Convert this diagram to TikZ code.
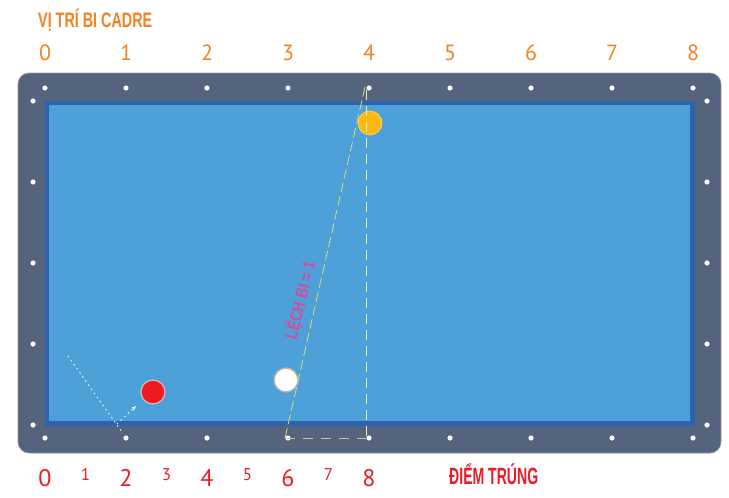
\documentclass[tikz,border=0pt]{standalone}
\usepackage{fontspec}
\setmainfont{PT Sans}
\newfontfamily\condfont{Liberation Sans}
\usetikzlibrary{arrows.meta}
\definecolor{framecol}{HTML}{53647C}
\definecolor{frameedge}{HTML}{8E98A6}
\definecolor{bandcol}{HTML}{2E62AE}
\definecolor{clothcol}{HTML}{4EA0D8}
\definecolor{orangecol}{HTML}{F58220}
\definecolor{redcol}{HTML}{ED1C24}
\definecolor{magentacol}{HTML}{D44B9B}
\definecolor{yellowball}{HTML}{FDB913}
\definecolor{slantcol}{HTML}{E3DC70}
\definecolor{vertcol}{HTML}{F2EDB0}
\definecolor{horcol}{HTML}{CBC39E}
\begin{document}
\begin{tikzpicture}[x=1pt,y=-1pt,
  diamond dot/.style={fill=white},
  toplab/.style={anchor=base,inner sep=0pt,text=orangecol,font=\fontsize{22}{24}\selectfont},
  botbig/.style={anchor=base,inner sep=0pt,text=redcol,font=\fontsize{24}{26}\selectfont},
  botsmall/.style={anchor=base,inner sep=0pt,text=redcol,font=\fontsize{17}{19}\selectfont},
  ball/.style={circle,minimum size=24pt,inner sep=0pt},
  slantline/.style={slantcol,line width=0.8pt,dash pattern=on 10pt off 4pt},
  vertline/.style={vertcol,line width=0.8pt,dash pattern=on 10pt off 6pt},
  horline/.style={horcol,line width=0.8pt,dash pattern=on 10pt off 8pt},
  dotline/.style={white,line width=0.9pt,dash pattern=on 1.5pt off 3.5pt}
]
\useasboundingbox (0,0) rectangle (729,498);
\fill[white] (0,0) rectangle (729,498);
% table
\draw[frameedge,fill=framecol,line width=0.6pt,rounded corners=11pt] (18,73) rectangle (721,453);
\fill[bandcol] (45,101) rectangle (695,426);
\fill[clothcol] (49,105) rectangle (690,421);
% diamonds
\foreach \i in {0,...,8} {
  \coordinate (t\i) at (45+81*\i,88);
  \coordinate (b\i) at (45+81*\i,438);
  \fill[diamond dot] (t\i) circle (2.6pt);
  \fill[diamond dot] (b\i) circle (2.6pt);
}
\foreach \j in {0,...,4} {
  \coordinate (l\j) at (33,101+81*\j);
  \coordinate (r\j) at (707,101+81*\j);
  \fill[diamond dot] (l\j) circle (2.6pt);
  \fill[diamond dot] (r\j) circle (2.6pt);
}
% labels
\node[anchor=base west,inner sep=0pt,text=orangecol] (title) at (38,27)
  {\fontsize{21}{22}\selectfont\resizebox{114pt}{\height}{\condfont\bfseries VỊ TRÍ BI CADRE}};
\foreach \i in {0,...,8} {
  \node[toplab] (tl\i) at (45+81*\i,60) {\i};
}
\foreach \j/\v in {0/0,1/2,2/4,3/6,4/8} {
  \node[botbig] (bb\j) at (45+81*\j,486) {\v};
}
\foreach \j/\v in {0/1,1/3,2/5,3/7} {
  \node[botsmall] (bs\j) at (85.5+81*\j,480) {\v};
}
\node[anchor=base west,inner sep=0pt,text=redcol] (hit) at (449,484)
  {\fontsize{23.5}{24}\selectfont\resizebox{89pt}{\height}{\condfont\bfseries ĐIỂM TRÚNG}};
% balls
\node[ball,fill=yellowball,draw=yellowball!70!white,line width=0.8pt] (yb) at (370,123) {};
\node[ball,fill=redcol,draw=gray!70!red!40,line width=1.2pt] (rb) at (153,392) {};
\node[ball,fill=white,draw=gray!60,line width=1.3pt] (wb) at (286,380) {};
% aiming lines
\coordinate (s0) at (285,438);
\coordinate (s1) at (365,87);
\coordinate (v0) at (366,90);
\coordinate (v1) at (366,438);
\draw[slantline] (s0) -- (s1);
\draw[vertline] (v0) -- (v1);
\draw[horline] (s0) -- (v1);
\node[rotate=76,inner sep=0pt,text=magentacol] (lech) at (300,300)
  {\fontsize{17}{18}\selectfont\resizebox{80pt}{\height}{\condfont\bfseries LỆCH BI = 1}};
% dotted reflection path
\coordinate (a0) at (68,356);
\coordinate (a1) at (117,424);
\coordinate (a2) at (122,432);
\coordinate (a3) at (136,406);
\draw[dotline] (a0) -- (a2);
\draw[dotline,-{Stealth[length=5pt,width=4pt]}] (a1) -- (a3);
\end{tikzpicture}
\end{document}
